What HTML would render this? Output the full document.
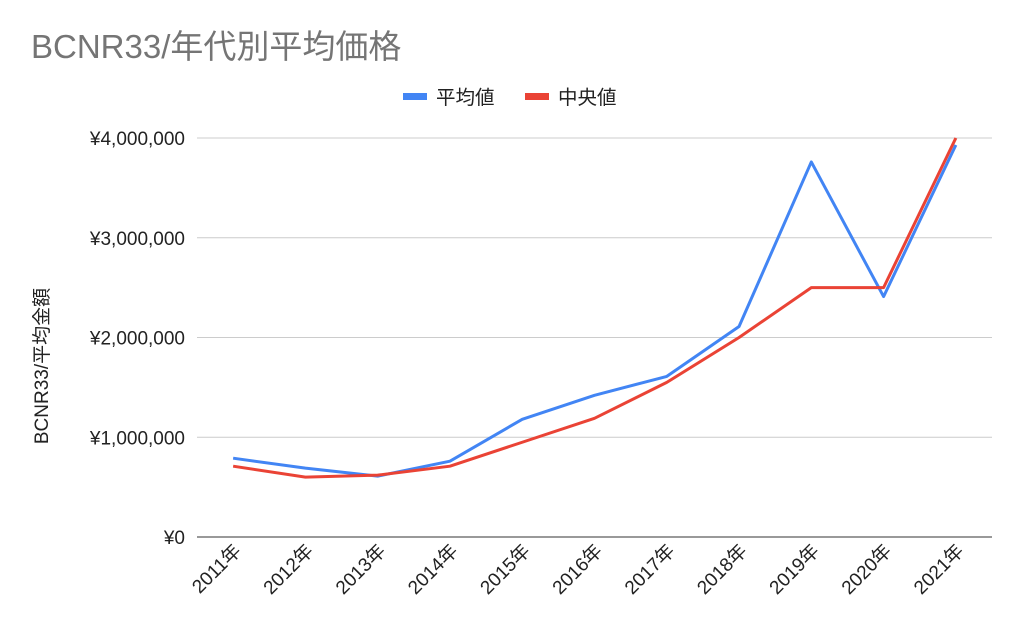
<!DOCTYPE html>
<html><head><meta charset="utf-8"><style>
body{margin:0;background:#fff;font-family:"Liberation Sans","Noto Sans CJK JP",sans-serif;}
svg text{font-family:"Liberation Sans","Noto Sans CJK JP",sans-serif;}
</style></head><body>
<svg id="chart" width="1024" height="633" xmlns="http://www.w3.org/2000/svg">
<rect width="1024" height="633" fill="#fff"/>
<text x="31" y="58" font-size="33" fill="#757575">BCNR33/年代別平均価格</text>
<g>
<g><rect x="403" y="93" width="24" height="7" fill="#4285f4"/><text x="436" y="104" font-size="19.5" fill="#222">平均値</text></g>
<g><rect x="525" y="93" width="24" height="7" fill="#ea4335"/><text x="558" y="104" font-size="19.5" fill="#222">中央値</text></g>
</g>
<text transform="translate(48,366) rotate(-90)" text-anchor="middle" font-size="19" fill="#222">BCNR33/平均金額</text>
<g id="grid"></g><g id="xl"></g><g id="series"></g>
</svg>
<script>
const categories=["2011年","2012年","2013年","2014年","2015年","2016年","2017年","2018年","2019年","2020年","2021年"];
const meanValues=[790000,690000,610000,760000,1180000,1420000,1610000,2110000,3760000,2410000,3930000];
const medianValues=[710000,600000,620000,710000,950000,1190000,1550000,2000000,2500000,2500000,4000000];
const yTicks=[0,1000000,2000000,3000000,4000000];
const yTickLabels=["¥0","¥1,000,000","¥2,000,000","¥3,000,000","¥4,000,000"];
const NS="http://www.w3.org/2000/svg";
const x0=197,x1=992,yTop=138,yBot=537,yMax=4000000;
const band=(x1-x0)/categories.length;
const xs=i=>x0+band*(i+0.5);
const ys=v=>yBot-(v/yMax)*(yBot-yTop);
function mk(t,a,p){const e=document.createElementNS(NS,t);for(const k in a)e.setAttribute(k,a[k]);p.appendChild(e);return e;}
const grid=document.getElementById('grid');
yTicks.forEach((v,i)=>{
 const l=mk('line',{x1:x0,x2:x1,y1:ys(v),y2:ys(v),stroke:i==0?'#333':'#ccc','stroke-width':1},grid);
 
 
 const t=mk('text',{x:185,y:ys(v)+7,'text-anchor':'end','font-size':19,fill:'#222'},grid);
 t.textContent=yTickLabels[i];
 
 
});
const xl=document.getElementById('xl');
categories.forEach((c,i)=>{
 const t=mk('text',{x:xs(i)+9,y:552,'text-anchor':'end','font-size':19,fill:'#222',transform:`rotate(-45 ${xs(i)+9} 552)`},xl);
 t.textContent=c;
 
 
});
const sg=document.getElementById('series');
[[meanValues,'#4285f4','series-mean-line'],[medianValues,'#ea4335','series-median-line']].forEach(([vals,col,name])=>{
 const p=mk('polyline',{points:vals.map((v,i)=>xs(i)+','+ys(v)).join(' '),fill:'none',stroke:col,'stroke-width':3,'stroke-linejoin':'round'},sg);
 
 
});
</script>
</body></html>
